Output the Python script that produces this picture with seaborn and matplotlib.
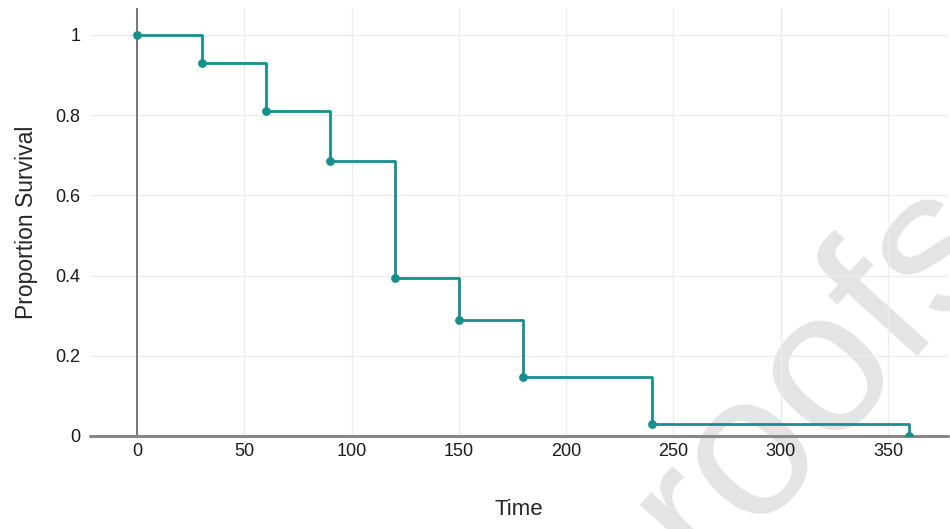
import matplotlib
matplotlib.use("Agg")
import matplotlib.pyplot as plt
import seaborn as sns
import pandas as pd

# Kaplan-Meier style survival estimates
times = [0, 30, 60, 90, 120, 150, 180, 240, 360]
survival = [1.0, 0.929, 0.81, 0.685, 0.395, 0.29, 0.148, 0.031, 0.0]
x_ticks = [0, 50, 100, 150, 200, 250, 300, 350]
y_ticks = [0, 0.2, 0.4, 0.6, 0.8, 1]
y_tick_labels = ["0", "0.2", "0.4", "0.6", "0.8", "1"]

df = pd.DataFrame({"Time": times, "Proportion Survival": survival})

sns.set_style("white")
plt.rcParams["font.family"] = ["Liberation Sans", "DejaVu Sans"]

teal = "#16908d"

fig = plt.figure(figsize=(9.5, 5.29), dpi=100)
ax = fig.add_axes([90 / 950, 93 / 529, 858 / 950, 428 / 529])

sns.lineplot(data=df, x="Time", y="Proportion Survival", drawstyle="steps-post",
             color=teal, linewidth=2, ax=ax, zorder=4)
sns.scatterplot(data=df, x="Time", y="Proportion Survival", color=teal,
                s=40, edgecolor=teal, linewidth=0, ax=ax, zorder=5)

ax.set_xlim(-22, 378)
ax.set_ylim(0, 1.067)
ax.set_xticks(x_ticks)
ax.set_yticks(y_ticks)
ax.set_yticklabels(y_tick_labels)
ax.tick_params(length=0, labelsize=13, colors="#1a1a1a", pad=5)
ax.tick_params(axis="y", pad=7)
ax.grid(True, color="#ececec", linewidth=1)
ax.set_axisbelow(True)
for side in ax.spines:
    ax.spines[side].set_visible(False)

# zero lines
ax.axvline(0, color="#555555", linewidth=1.1, zorder=3)
ax.axhline(0, color="#888888", linewidth=2.2, zorder=3, clip_on=False)

ax.set_xlabel("Time", fontsize=16, labelpad=28)
ax.set_ylabel("Proportion Survival", fontsize=16.5, labelpad=12)

# watermark (partly off the canvas, as in the source image)
ax.text(818 / 950, 1 - 374 / 529, "roofs", transform=fig.transFigure,
        rotation=48, fontsize=146, color="#e4e4e4", ha="center", va="center",
        rotation_mode="anchor", zorder=0.2, clip_on=False)

fig.savefig("out.png", dpi=100)
